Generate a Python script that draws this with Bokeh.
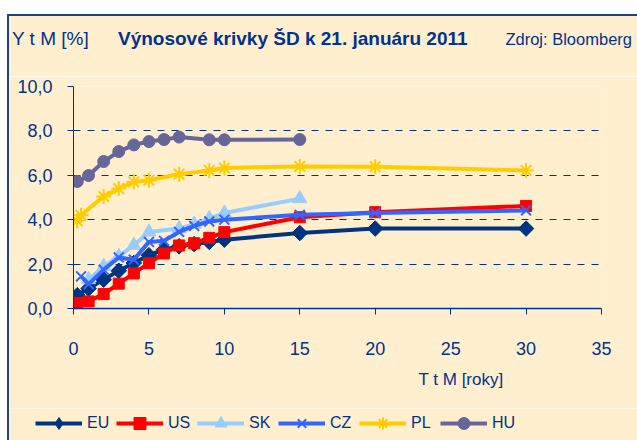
import math
from bokeh.plotting import figure
from bokeh.models import Range1d, Legend, LegendItem, Spacer, Div, Title
from bokeh.layouts import column, row
from bokeh.embed import file_html
from bokeh.resources import INLINE

# ---- data ----
mat_eu = [0.25, 1, 2, 3, 4, 5, 6, 7, 8, 9, 10, 15, 20, 30]
eu = [0.6, 0.9, 1.3, 1.7, 2.05, 2.4, 2.65, 2.8, 2.9, 3.0, 3.1, 3.4, 3.6, 3.6]
mat_us = [0.25, 1, 2, 3, 4, 5, 6, 7, 8, 9, 10, 15, 20, 30]
us = [0.25, 0.32, 0.65, 1.12, 1.58, 2.04, 2.48, 2.84, 2.94, 3.18, 3.44, 4.11, 4.34, 4.62]
mat_sk = [1, 2, 3, 4, 5, 7, 8, 9, 10, 15]
sk = [1.3, 1.9, 2.35, 2.85, 3.45, 3.6, 3.8, 4.05, 4.3, 4.95]
mat_cz = [0.5, 1, 2, 3, 4, 5, 6, 7, 8, 9, 10, 15, 20, 30]
cz = [1.45, 1.1, 1.75, 2.3, 2.2, 3.0, 3.05, 3.45, 3.72, 3.92, 4.0, 4.22, 4.3, 4.42]
mat_pl = [0.25, 0.5, 2, 3, 4, 5, 7, 9, 10, 15, 20, 30]
pl = [3.95, 4.2, 5.05, 5.4, 5.7, 5.78, 6.05, 6.22, 6.33, 6.4, 6.38, 6.22]
mat_hu = [0.25, 1, 2, 3, 4, 5, 6, 7, 9, 10, 15]
hu = [5.72, 5.99, 6.62, 7.07, 7.37, 7.52, 7.61, 7.72, 7.6, 7.6, 7.61]

x_ticks = [0, 5, 10, 15, 20, 25, 30, 35]
y_ticks = [0, 2, 4, 6, 8, 10]
y_tick_labels = ["0,0", "2,0", "4,0", "6,0", "8,0", "10,0"]

title_text = "Výnosové krivky ŠD k 21. januáru 2011"
y_title = "Y t M [%]"
x_title = "T t M [roky]"
source_text = "Zdroj: Bloomberg"

# ---- style ----
CREAM = "#FFEFCE"
NAVY = "#00338D"
FONT = "Liberation Sans"
W = 628

# name, x, y, colour, plot marker, legend marker
series = [
    ("EU", mat_eu, eu, "#003380", dict(marker="square", angle=math.pi / 4, size=11),
     dict(marker="diamond", size=16)),
    ("US", mat_us, us, "#FF0000", dict(marker="square", size=11), dict(marker="square", size=10)),
    ("SK", mat_sk, sk, "#99CCFF", dict(marker="triangle", size=14), dict(marker="triangle", size=11)),
    ("CZ", mat_cz, cz, "#3366FF", dict(marker="x", size=14, line_width=2),
     dict(marker="x", size=11, line_width=2)),
    ("PL", mat_pl, pl, "#FFCC00", dict(marker="asterisk", size=15, line_width=2),
     dict(marker="asterisk", size=12, line_width=2)),
    ("HU", mat_hu, hu, "#666699", dict(marker="circle", size=12), dict(marker="circle", size=10)),
]

# ---- top strip: titles (HTML text) ----
span = "position:absolute;top:%dpx;%s;font-size:%s;%s;white-space:nowrap;line-height:1"
html = (
    f"<div style='position:relative;width:{W}px;height:60px;background:{CREAM};"
    f"font-family:\"{FONT}\";color:{NAVY}'>"
    f"<span style='{span % (13, 'left:3px', '19px', 'font-weight:normal')}'>{y_title}</span>"
    f"<span style='{span % (13, 'left:109px', '19px', 'font-weight:bold')}'>{title_text}</span>"
    f"<span style='{span % (15, 'right:5px', '16.5px', 'font-weight:normal')}'>{source_text}</span>"
    "</div>"
)
top = Div(text=html, width=W, height=60, margin=(0, 0, 0, 0),
          styles={"background-color": CREAM})

# ---- main chart ----
p = figure(width=W, height=332, x_range=Range1d(0, 35), y_range=Range1d(0, 10),
           output_backend="svg", toolbar_location=None,
           min_border_left=64, min_border_right=36, min_border_top=10, min_border_bottom=100,
           background_fill_color=CREAM, border_fill_color=CREAM)
p.outline_line_color = None
p.xgrid.visible = False
p.ygrid.ticker = y_ticks[1:]
p.ygrid.grid_line_color = NAVY
p.ygrid.grid_line_dash = "7 7"
p.ygrid.grid_line_width = 1

p.xaxis.ticker = x_ticks
p.yaxis.ticker = y_ticks
p.yaxis.major_label_overrides = {t: l for t, l in zip(y_ticks, y_tick_labels)}
for ax in (p.xaxis[0], p.yaxis[0]):
    ax.axis_line_color = NAVY
    ax.major_tick_line_color = NAVY
    ax.minor_tick_line_color = None
    ax.major_tick_in = 0
    ax.major_tick_out = 6
    ax.major_label_text_font = FONT
    ax.major_label_text_font_size = "18px"
    ax.major_label_text_color = NAVY
p.xaxis.axis_line_width = 1.5
p.xaxis.major_label_standoff = 27
p.yaxis.major_label_standoff = 15

for name, xs, ys, col, mk, _ in series:
    kw = dict(mk)
    lw = kw.pop("line_width", 1)
    p.line(xs, ys, line_color=col, line_width=4)
    p.scatter(xs, ys, fill_color=col, line_color=col, line_width=lw, **kw)

xt = Title(text=x_title, align="right", offset=98, text_font=FONT, text_font_size="17px",
           text_font_style="normal", text_color=NAVY, standoff=20)
p.add_layout(xt, "below")

# ---- bottom strip: legend ----
BH = 32
bot = figure(width=W, height=BH, x_range=Range1d(0, W), y_range=Range1d(0, BH),
             x_axis_type=None, y_axis_type=None, output_backend="svg",
             toolbar_location=None, min_border=0, min_border_left=0, min_border_right=0,
             min_border_top=0, min_border_bottom=0,
             background_fill_color=CREAM, border_fill_color=CREAM)
bot.outline_line_color = None
nan = float("nan")
items = []
for name, xs, ys, col, _, lmk in series:
    kw = dict(lmk)
    lw = kw.pop("line_width", 1)
    r1 = bot.line([nan], [nan], line_color=col, line_width=4)
    r2 = bot.scatter([nan], [nan], fill_color=col, line_color=col, line_width=lw, **kw)
    items.append(LegendItem(label=name, renderers=[r1, r2]))
legend = Legend(items=items, orientation="horizontal", location=(26, 2),
                background_fill_alpha=0, border_line_alpha=0,
                glyph_width=47, glyph_height=30, label_width=24, spacing=5,
                label_standoff=5, padding=0, margin=0,
                label_text_font=FONT, label_text_font_size="16px",
                label_text_color=NAVY)
bot.add_layout(legend, "center")

inner = column(top, p, row(bot), spacing=0,
               styles={"border-left": "2px solid #1F3F8F", "border-top": "2px solid #1F3F8F"})
layout = column(Spacer(height=14), row(Spacer(width=7), inner))
open("out.html", "w").write(file_html(layout, INLINE))
